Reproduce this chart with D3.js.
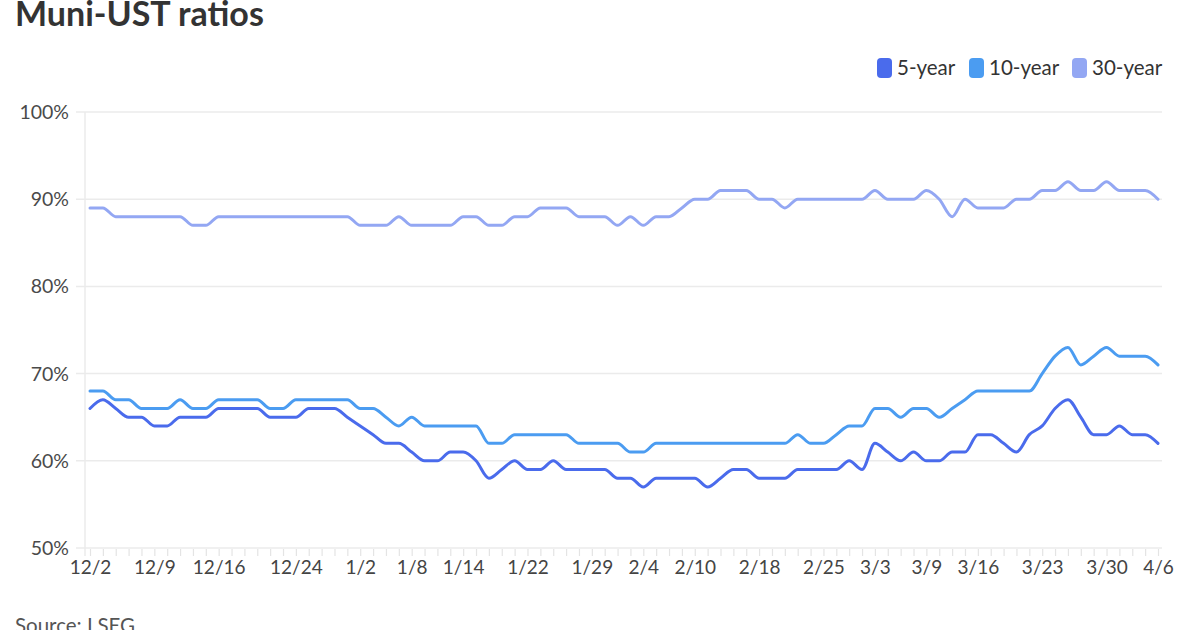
<!DOCTYPE html>
<html>
<head>
<meta charset="utf-8">
<script src="https://cdn.jsdelivr.net/npm/d3@7"></script>
<style>
  html, body { margin: 0; padding: 0; background: #fff; }
  svg { display: block; font-family: Lato, "Noto Sans", sans-serif; }
</style>
</head>
<body>
<svg id="chart" width="1200" height="630"></svg>
<script>
const dates = [
  "12/2","12/3","12/4","12/5","12/8","12/9","12/10","12/11","12/12","12/15","12/16","12/17","12/18","12/19","12/22","12/23","12/24","12/26","12/29","12/30","12/31",
  "1/2","1/5","1/6","1/7","1/8","1/9","1/12","1/13","1/14","1/15","1/16","1/20","1/21","1/22","1/23","1/26","1/27","1/28","1/29","1/30",
  "2/2","2/3","2/4","2/5","2/6","2/9","2/10","2/11","2/12","2/13","2/17","2/18","2/19","2/20","2/23","2/24","2/25","2/26","2/27",
  "3/2","3/3","3/4","3/5","3/6","3/9","3/10","3/11","3/12","3/16","3/17","3/18","3/19","3/20","3/23","3/24","3/25","3/26","3/27","3/30","3/31",
  "4/1","4/2","4/6"
];
const tickLabels = ["12/2","12/9","12/16","12/24","1/2","1/8","1/14","1/22","1/29","2/4","2/10","2/18","2/25","3/3","3/9","3/16","3/23","3/30","4/6"];
const yTicks = [50, 60, 70, 80, 90, 100];

const fiveYear = [
  66,67,66,65,65,64,64,65,65,65,66,66,66,66,65,65,65,66,66,66,65,
  64,63,62,62,61,60,60,61,61,60,58,59,60,59,59,60,59,59,59,59,
  58,58,57,58,58,58,58,57,58,59,59,58,58,58,59,59,59,59,60,
  59,62,61,60,61,60,60,61,61,63,63,62,61,63,64,66,67,65,63,63,64,
  63,63,62
];
const tenYear = [
  68,68,67,67,66,66,66,67,66,66,67,67,67,67,66,66,67,67,67,67,67,
  66,66,65,64,65,64,64,64,64,64,62,62,63,63,63,63,63,62,62,62,
  62,61,61,62,62,62,62,62,62,62,62,62,62,62,63,62,62,63,64,
  64,66,66,65,66,66,65,66,67,68,68,68,68,68,70,72,73,71,72,73,72,
  72,72,71
];
const thirtyYear = [
  89,89,88,88,88,88,88,88,87,87,88,88,88,88,88,88,88,88,88,88,88,
  87,87,87,88,87,87,87,87,88,88,87,87,88,88,89,89,89,88,88,88,
  87,88,87,88,88,89,90,90,91,91,91,90,90,89,90,90,90,90,90,
  90,91,90,90,90,91,90,88,90,89,89,89,90,90,91,91,92,91,91,92,91,
  91,91,90
];
const seriesNames = ["5-year", "10-year", "30-year"];
const seriesColors = ["#4a6bec", "#4b9cf1", "#93a7f3"];
const seriesValues = [fiveYear, tenYear, thirtyYear];

const svg = d3.select("#chart");

svg.append("text")
  .attr("x", 15).attr("y", 26)
  .attr("font-size", 34).attr("font-weight", 700)
  .attr("fill", "#333")
  .text("Muni-UST ratios");

const x = d3.scalePoint().domain(dates).range([90, 1158]);
const y = d3.scaleLinear().domain([50, 100]).range([548, 112]);

// gridlines
const grid = svg.append("g");
grid.selectAll("line").data(yTicks).join("line")
  .attr("x1", 76).attr("x2", 1162)
  .attr("y1", d => y(d)).attr("y2", d => y(d))
  .attr("stroke", "#ebebeb").attr("stroke-width", 1.5);

// vertical axis line
svg.append("line")
  .attr("x1", 85).attr("x2", 85)
  .attr("y1", y(100)).attr("y2", y(50) + 8)
  .attr("stroke", "#ebebeb").attr("stroke-width", 1.5);

// y labels
svg.append("g").selectAll("text").data(yTicks).join("text")
  .attr("x", 69).attr("y", d => y(d) + 7)
  .attr("text-anchor", "end")
  .attr("font-size", 19.5).attr("fill", "#4a4a4a")
  .text(d => d + "%");

// x axis
const xAxis = d3.axisBottom(x)
  .tickValues(dates)
  .tickSize(7)
  .tickPadding(5)
  .tickFormat(d => tickLabels.includes(d) ? d : "");
const gx = svg.append("g").attr("transform", `translate(0,${y(50) + 1})`).call(xAxis);
gx.select(".domain").remove();
gx.selectAll(".tick line").attr("stroke", "#e4e4e4").attr("stroke-width", 1.2);
gx.selectAll(".tick text")
  .attr("font-size", 19).attr("fill", "#444")
  .attr("font-family", "Lato, 'Noto Sans', sans-serif");

// lines
const line = d3.line()
  .x((d, i) => x(dates[i]))
  .y(d => y(d))
  .curve(d3.curveMonotoneX);

[2, 1, 0].forEach(k => {
  svg.append("path")
    .datum(seriesValues[k])
    .attr("d", line)
    .attr("fill", "none")
    .attr("stroke", seriesColors[k])
    .attr("stroke-width", 3)
    .attr("stroke-linejoin", "round")
    .attr("stroke-linecap", "round");
});

// legend
const legendX = [877, 969, 1072];
const lg = svg.append("g");
seriesNames.forEach((name, k) => {
  lg.append("rect")
    .attr("x", legendX[k]).attr("y", 58)
    .attr("width", 15).attr("height", 20).attr("rx", 4)
    .attr("fill", seriesColors[k]);
  lg.append("text")
    .attr("x", legendX[k] + 20).attr("y", 75)
    .attr("font-size", 20.5).attr("fill", "#333")
    .text(name);
});

svg.append("text")
  .attr("x", 15).attr("y", 633)
  .attr("font-size", 20.5).attr("fill", "#555")
  .text("Source: LSEG");
</script>
</body>
</html>
